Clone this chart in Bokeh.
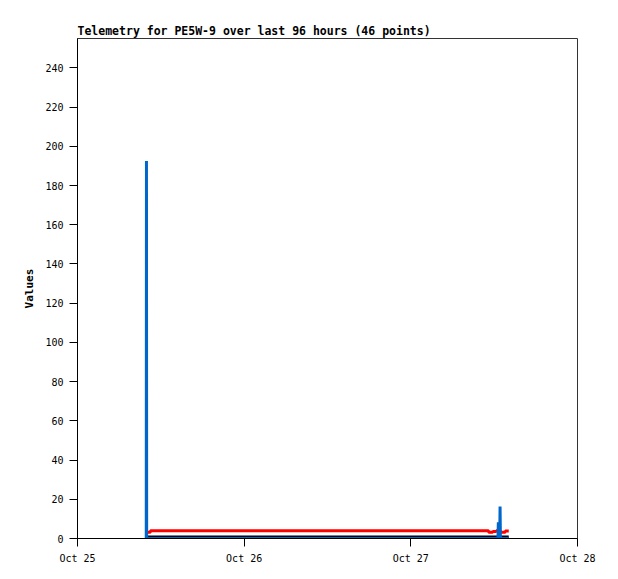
from datetime import datetime, timedelta
from bokeh.plotting import figure
from bokeh.models import Range1d, FixedTicker, DatetimeTickFormatter
from bokeh.embed import file_html
from bokeh.resources import INLINE

# Sample times, hours after Oct 25 00:00
hours = [9.90, 9.93, 9.96, 10.5, 12.0, 14.0, 16.0, 18.0, 20.0, 22.0, 24.0,
         26.0, 28.0, 30.0, 32.0, 34.0, 36.0, 38.0, 40.0, 42.0, 44.0, 46.0,
         48.0, 50.0, 52.0, 54.0, 56.0, 58.0, 59.2, 59.8, 60.3, 60.55, 60.6,
         60.65, 60.8, 60.85, 60.9, 61.2, 61.6, 62.1]
blue_vals = [0, 192.5, 0, 0, 0, 0, 0, 0, 0, 0, 0,
             0, 0, 0, 0, 0, 0, 0, 0, 0, 0, 0,
             0, 0, 0, 0, 0, 0, 0, 0, 0, 0, 8.3,
             0, 0, 16.3, 0, 0, 0, 0]
red_vals = [3.2, 3.2, 3.2, 4.0, 4.0, 4.0, 4.0, 4.0, 4.0, 4.0, 4.0,
            4.0, 4.0, 4.0, 4.0, 4.0, 4.0, 4.0, 4.0, 4.0, 4.0, 4.0,
            4.0, 4.0, 4.0, 4.0, 4.0, 4.0, 3.2, 3.6, 4.0, 4.0, 4.0,
            4.0, 4.0, 4.0, 3.2, 3.2, 3.8, 3.8]
black_vals = [0] * len(hours)

tick_days = ["2024-10-25", "2024-10-26", "2024-10-27", "2024-10-28"]
y_ticks = [0, 20, 40, 60, 80, 100, 120, 140, 160, 180, 200, 220, 240]

t0 = datetime(2024, 10, 25)
times = [t0 + timedelta(hours=h) for h in hours]
tick_ms = [(datetime.strptime(d, "%Y-%m-%d") - datetime(1970, 1, 1)).total_seconds() * 1000
           for d in tick_days]

p = figure(width=610, height=571, x_axis_type="datetime",
           output_backend="svg", toolbar_location=None,
           x_range=Range1d(datetime.strptime(tick_days[0], "%Y-%m-%d"),
                           datetime.strptime(tick_days[-1], "%Y-%m-%d")),
           y_range=Range1d(0, 255),
           min_border_left=77, min_border_right=33,
           min_border_top=38, min_border_bottom=33)

p.title.text = "Telemetry for PE5W-9 over last 96 hours (46 points)"
p.title.text_font = "DejaVu Sans Mono"
p.title.text_font_size = "11.5px"
p.title.text_font_style = "bold"
p.title.text_color = "black"
p.title.align = "left"
p.title.offset = 0
p.title.standoff = 2

p.grid.visible = False
p.outline_line_color = "#333333"
p.outline_line_width = 1
p.background_fill_color = "white"
p.border_fill_color = "white"

p.line(times, black_vals, line_color="black", line_width=6)
p.step(times, red_vals, mode="after", line_color="#ff0000", line_width=3)
p.line(times, blue_vals, line_color="#0066cc", line_width=3)

p.xaxis.ticker = FixedTicker(ticks=tick_ms)
p.xaxis.formatter = DatetimeTickFormatter(days="%b %d", months="%b %d", hours="%b %d")
p.yaxis.ticker = FixedTicker(ticks=y_ticks)
p.yaxis.axis_label = "Values"

for ax in (p.xaxis[0], p.yaxis[0]):
    ax.major_tick_out = 8
    ax.major_tick_in = 0
    ax.minor_tick_out = 0
    ax.minor_tick_in = 0
    ax.axis_line_color = "black"
    ax.major_tick_line_color = "black"
    ax.major_label_text_font = "DejaVu Sans Mono"
    ax.major_label_text_font_size = "10px"
    ax.major_label_text_color = "black"
    ax.major_label_standoff = 6
    ax.axis_label_text_font = "DejaVu Sans Mono"
    ax.axis_label_text_font_size = "11px"
    ax.axis_label_text_font_style = "bold"
    ax.axis_label_text_color = "black"
    ax.axis_label_standoff = 6

open("out.html", "w").write(file_html(p, INLINE))
